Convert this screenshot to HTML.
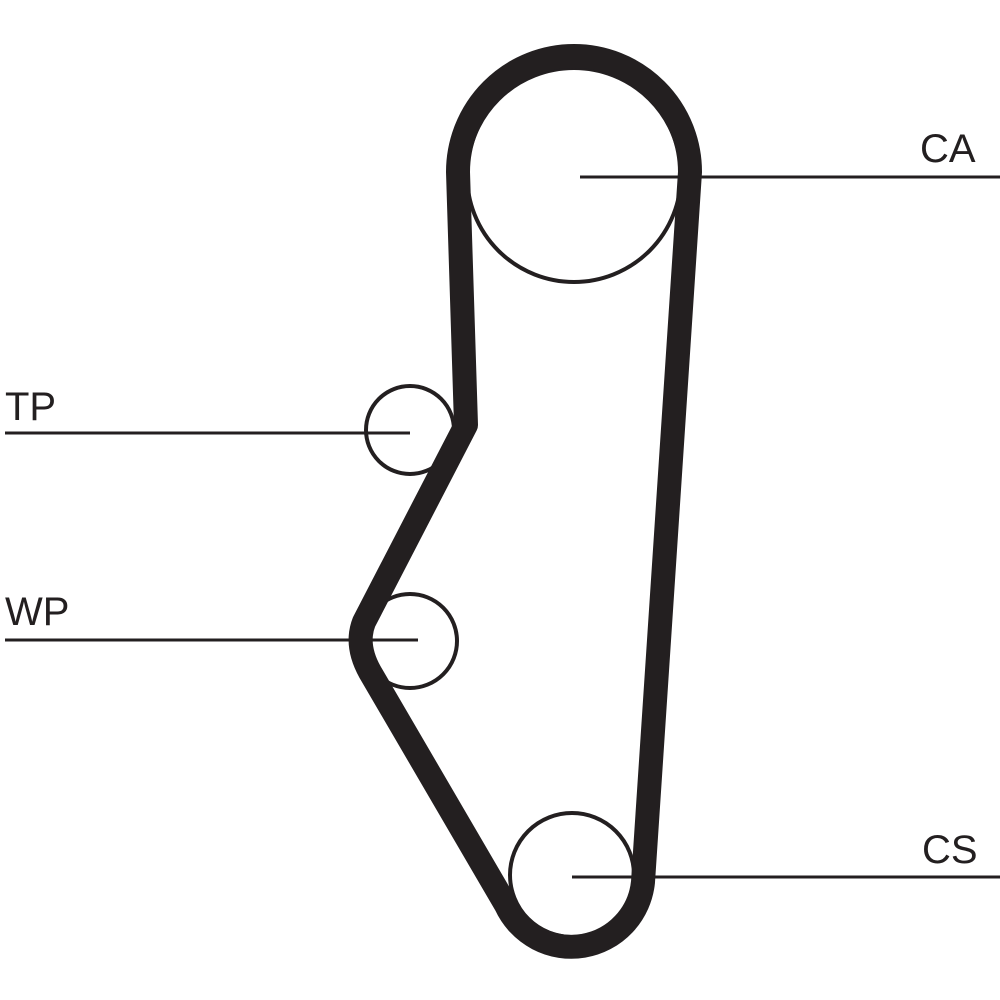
<!DOCTYPE html>
<html><head><meta charset="utf-8"><style>
html,body{margin:0;padding:0;background:#fff;}
svg{display:block}
text{font-family:"Liberation Sans",sans-serif;font-size:40px;fill:#231f20}
</style></head><body>
<svg width="1000" height="1000" viewBox="0 0 1000 1000">
<g fill="none" stroke="#231f20">
<circle cx="574" cy="175" r="107" stroke-width="4"/>
<circle cx="572" cy="875" r="62" stroke-width="4"/>
<circle cx="410" cy="430" r="44" stroke-width="4"/>
<circle cx="410" cy="641" r="47" stroke-width="4"/>
<path d="M 690,172 A 116 116 0 0 0 458,172 L 466,425 L 364,622 Q 355,645 370,672 L 506,905 A 72 72 0 0 0 643,882 Z" stroke-width="24" stroke-linejoin="round"/>
<g stroke-width="3">
<line x1="580" y1="177" x2="1000" y2="177"/>
<line x1="5" y1="433" x2="410" y2="433"/>
<line x1="5" y1="640" x2="418" y2="640"/>
<line x1="572" y1="877" x2="1000" y2="877"/>
</g>
</g>
<text x="920" y="162">CA</text>
<text x="5" y="420">TP</text>
<text x="5" y="625">WP</text>
<text x="922" y="863">CS</text>
</svg>
</body></html>
